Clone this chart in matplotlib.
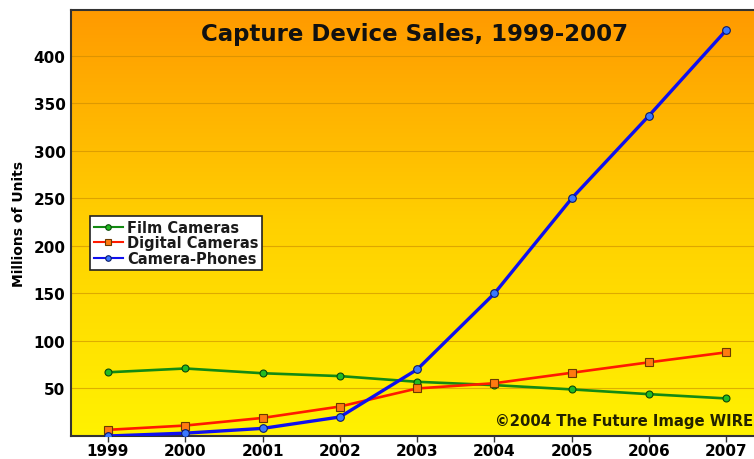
import numpy as np
import matplotlib
matplotlib.use("Agg")
import matplotlib.pyplot as plt
from matplotlib.colors import LinearSegmentedColormap

years = [1999, 2000, 2001, 2002, 2003, 2004, 2005, 2006, 2007]
film_cameras = [67, 71, 66, 63, 57, 53.5, 49, 44, 39.5]
digital_cameras = [6.5, 11, 19, 31, 50, 55.5, 66.5, 77.5, 88]
camera_phones = [0, 3, 8, 20, 70, 150, 250, 337, 427]
y_ticks = [50, 100, 150, 200, 250, 300, 350, 400]

plt.rcParams.update(
    {
        "font.family": "DejaVu Sans",
        "font.weight": "bold",
        "text.color": "#1a1a1a",
    }
)

W, H = 754, 460
fig = plt.figure(figsize=(W / 100, H / 100), dpi=100)
fig.patch.set_facecolor("white")

# axes box in pixels; right edge runs past the figure
left_px, top_px, bottom_px = 71, 11, 437
px_per_year = 77.3
x0 = 1999 - (108 - left_px) / px_per_year
x1 = x0 + 9.0
ax = fig.add_axes(
    [left_px / W, 1 - bottom_px / H, 9.0 * px_per_year / W, (bottom_px - top_px) / H]
)
ax.set_xlim(x0, x1)
ax.set_ylim(0, 448)

# orange-to-yellow vertical gradient
grad = LinearSegmentedColormap.from_list("bg", ["#fff200", "#ffd000", "#ff9a00"])
ax.imshow(
    np.linspace(0, 1, 256).reshape(-1, 1),
    cmap=grad,
    origin="lower",
    aspect="auto",
    extent=[0, 1, 0, 1],
    transform=ax.transAxes,
    zorder=0,
)

for v in y_ticks:
    ax.axhline(v, color="#c88a00", lw=0.8, alpha=0.6, zorder=1)

ax.plot(
    years, film_cameras, color="#138a13", lw=1.9, marker="o", ms=5,
    mfc="#22bb22", mec="#0a4a0a", mew=0.8, label="Film Cameras", zorder=3,
)
ax.plot(
    years, digital_cameras, color="#ff1a00", lw=1.9, marker="s", ms=6,
    mfc="#ff7a10", mec="#6a3a00", mew=0.8, label="Digital Cameras", zorder=3,
)
ax.plot(
    years, camera_phones, color="#1010ee", lw=2.4, marker="o", ms=5.5,
    mfc="#3a78ff", mec="#0a1a6a", mew=0.8, label="Camera-Phones", zorder=4,
)

ax.set_xticks(years)
ax.set_xticklabels([str(y) for y in years], fontsize=11, fontweight="bold")
ax.set_yticks(y_ticks)
ax.set_yticklabels([str(v) for v in y_ticks], fontsize=11, fontweight="bold")
ax.tick_params(axis="y", length=0, pad=4)
ax.tick_params(axis="x", length=4, width=1, color="#333333", direction="out", pad=1)
ax.set_ylabel("Millions of Units", fontsize=10, fontweight="bold", labelpad=5)

for side in ["left", "top", "bottom"]:
    ax.spines[side].set_color("#333333")
    ax.spines[side].set_linewidth(1.5)
ax.spines["right"].set_visible(False)

ax.text(
    (415 - left_px) / (9.0 * px_per_year), (437 - 35) / 426,
    "Capture Device Sales, 1999-2007",
    transform=ax.transAxes, ha="center", va="center",
    fontsize=16.5, fontweight="bold", color="#111111", zorder=5,
)
ax.text(
    (495 - left_px) / (9.0 * px_per_year), (437 - 422) / 426,
    "\u00a92004 The Future Image WIRE",
    transform=ax.transAxes, ha="left", va="center",
    fontsize=10.7, fontweight="bold", color="#222200", zorder=5, clip_on=False,
)

leg = ax.legend(
    loc="upper left",
    bbox_to_anchor=((90 - left_px) / (9.0 * px_per_year), (437 - 217) / 426),
    frameon=True, fancybox=False,
    handlelength=2.0, handletextpad=0.3, borderpad=0.25,
    labelspacing=0.05, borderaxespad=0,
    prop={"weight": "bold", "size": 10.5},
)
leg.get_frame().set_edgecolor("#222222")
leg.get_frame().set_linewidth(1.2)
leg.get_frame().set_alpha(1)
for line in leg.get_lines():
    line.set_linewidth(1.5)
    line.set_markersize(4)

fig.savefig("out.png", dpi=100)
